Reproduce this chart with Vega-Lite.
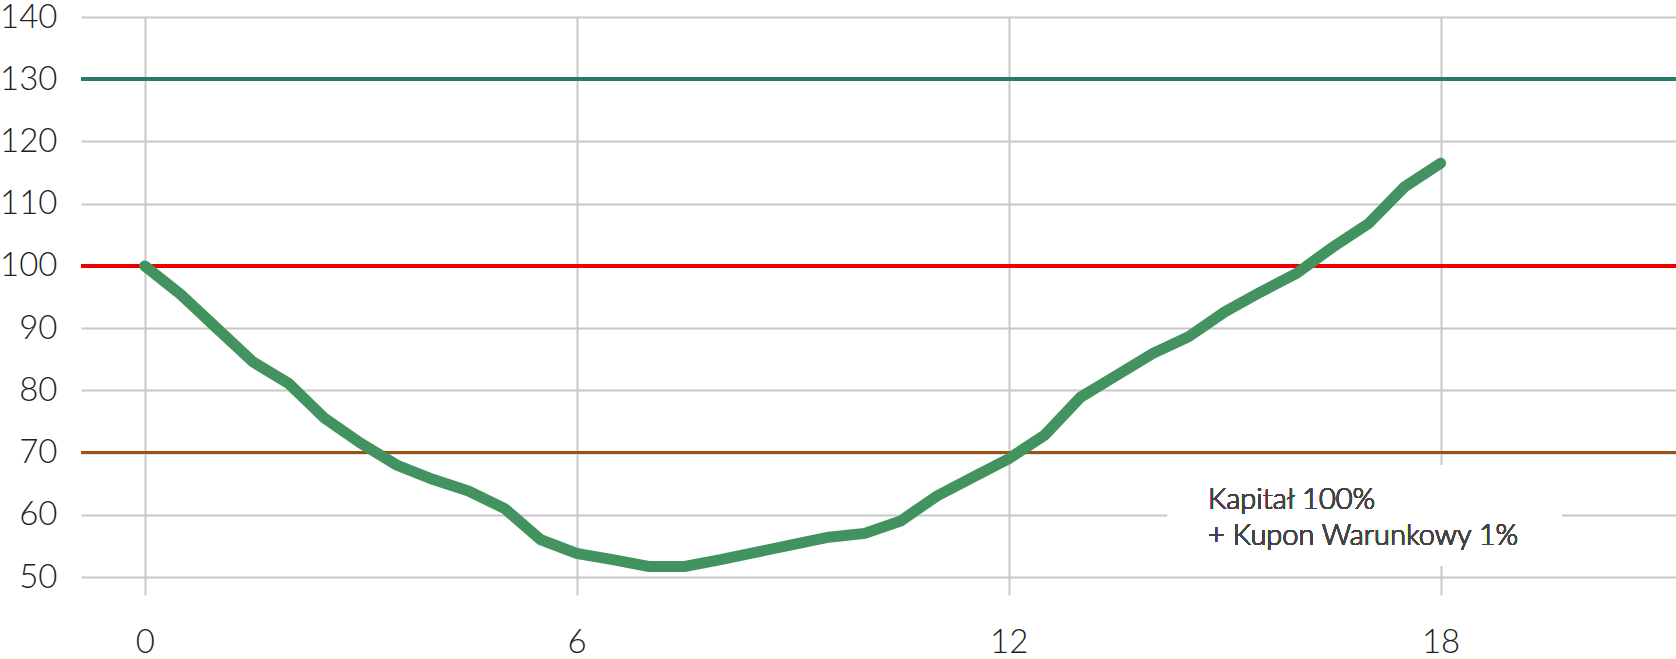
{
  "$schema": "https://vega.github.io/schema/vega-lite/v6.json",
  "width": 1595,
  "height": 560,
  "autosize": {"type": "none"},
  "padding": {"left": 81, "top": 17, "right": 0, "bottom": 82},
  "background": "white",
  "config": {
    "view": {"stroke": null},
    "font": "Lato",
    "axis": {"labelFont": "Lato", "labelFontWeight": 300, "labelFontSize": 33, "labelColor": "#222222", "gridColor": "#c8c8c8", "gridWidth": 2, "domain": false, "title": null}
  },
  "data": {"values": [
    {"month": 0, "value": 100},
    {"month": 0.5, "value": 95.4},
    {"month": 1, "value": 90},
    {"month": 1.5, "value": 84.6},
    {"month": 2, "value": 81.1},
    {"month": 2.5, "value": 75.5},
    {"month": 3, "value": 71.5},
    {"month": 3.5, "value": 68},
    {"month": 4, "value": 65.7},
    {"month": 4.5, "value": 63.8},
    {"month": 5, "value": 61},
    {"month": 5.5, "value": 56},
    {"month": 6, "value": 53.8},
    {"month": 6.5, "value": 52.8},
    {"month": 7, "value": 51.7},
    {"month": 7.5, "value": 51.7},
    {"month": 8, "value": 52.8},
    {"month": 8.5, "value": 54},
    {"month": 9, "value": 55.2},
    {"month": 9.5, "value": 56.4},
    {"month": 10, "value": 57},
    {"month": 10.5, "value": 59},
    {"month": 11, "value": 63},
    {"month": 11.5, "value": 66},
    {"month": 12, "value": 69},
    {"month": 12.5, "value": 72.8},
    {"month": 13, "value": 78.9},
    {"month": 13.5, "value": 82.4},
    {"month": 14, "value": 85.9},
    {"month": 14.5, "value": 88.6},
    {"month": 15, "value": 92.6},
    {"month": 15.5, "value": 95.8},
    {"month": 16, "value": 98.8},
    {"month": 16.5, "value": 103},
    {"month": 17, "value": 106.8},
    {"month": 17.5, "value": 112.7},
    {"month": 18, "value": 116.5}
  ]},
  "encoding": {
    "x": {"type": "quantitative", "scale": {"domain": [-0.885, 21.27], "nice": false, "zero": false},
      "axis": {"values": [0, 6, 12, 18], "grid": true, "ticks": true, "tickSize": 18, "tickWidth": 2, "tickColor": "#c8c8c8", "labelPadding": 31, "labelBaseline": "top"}},
    "y": {"type": "quantitative", "scale": {"domain": [50, 140], "nice": false, "zero": false},
      "axis": {"values": [50, 60, 70, 80, 90, 100, 110, 120, 130, 140], "grid": true, "ticks": false, "labelPadding": 24}}
  },
  "layer": [
    {
      "mark": {"type": "rect", "color": "white"},
      "encoding": {"x": {"datum": 14.21}, "x2": {"datum": 19.68}, "y": {"datum": 51.9}, "y2": {"datum": 67.95}}
    },
    {
      "mark": {"type": "rule", "color": "#2a7a6c", "strokeWidth": 3},
      "encoding": {"y": {"datum": 130}}
    },
    {
      "mark": {"type": "rule", "color": "#ee0000", "strokeWidth": 3},
      "encoding": {"y": {"datum": 100}}
    },
    {
      "mark": {"type": "rule", "color": "#9a5410", "strokeWidth": 3},
      "encoding": {"y": {"datum": 70}}
    },
    {
      "mark": {"type": "line", "color": "#42935f", "strokeWidth": 11, "strokeCap": "round", "strokeJoin": "miter"},
      "encoding": {"x": {"field": "month"}, "y": {"field": "value"}}
    },
    {
      "mark": {"type": "text", "align": "left", "baseline": "alphabetic", "fontSize": 29, "fontWeight": 300, "font": "Lato", "color": "#444444", "lineHeight": 36,
        "text": ["Kapitał 100%", "+ Kupon Warunkowy 1%"]},
      "encoding": {"x": {"datum": 14.77}, "y": {"datum": 60.9}}
    }
  ]
}
